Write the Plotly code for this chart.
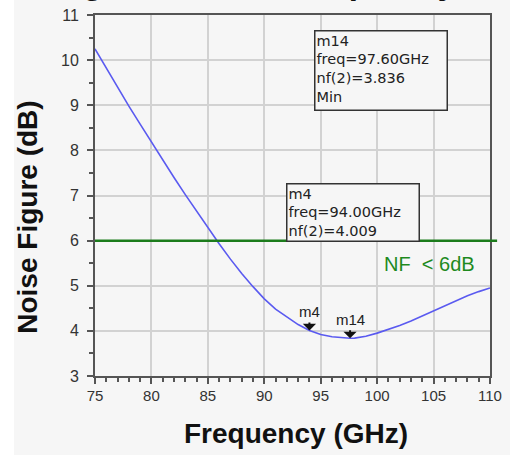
import plotly.graph_objects as go

freq_ghz = [75, 76, 77, 78, 79, 80, 81, 82, 83, 84, 85, 86, 87, 88, 89, 90, 91, 92, 93,
            94, 95, 96, 97, 97.6, 98, 99, 100, 101, 102, 103, 104, 105, 106, 107, 108, 109, 110]
nf_db = [10.25, 9.82, 9.40, 8.98, 8.58, 8.18, 7.79, 7.40, 7.02, 6.65, 6.28, 5.93, 5.59, 5.27,
         4.98, 4.71, 4.48, 4.30, 4.14, 4.009, 3.92, 3.87, 3.84, 3.836, 3.84, 3.88, 3.95, 4.03,
         4.12, 4.22, 4.33, 4.44, 4.55, 4.67, 4.78, 4.87, 4.95]

marker_names = ["m4", "m14"]
marker_freq = [94.0, 97.6]
marker_nf = [4.009, 3.836]
marker_box_text = ["m4<br>freq=94.00GHz<br>nf(2)=4.009",
                   "m14<br>freq=97.60GHz<br>nf(2)=3.836<br>Min"]
nf_limit = 6
x_ticks = [75, 80, 85, 90, 95, 100, 105, 110]
y_ticks = [3, 4, 5, 6, 7, 8, 9, 10, 11]

BG = "#f6f6f6"
AX = "#555555"
FONT = "Arial, Liberation Sans, sans-serif"
BOXFONT = "DejaVu Sans, Arial, sans-serif"

fig = go.Figure()
fig.add_trace(go.Scatter(x=freq_ghz, y=nf_db, mode="lines",
                         line=dict(color="#5a5af0", width=1.6), showlegend=False,
                         hoverinfo="skip"))

annotations = []
# marker triangles + labels
for name, fx, fy in zip(marker_names, marker_freq, marker_nf):
    annotations.append(dict(x=fx, y=fy, xref="x", yref="y", text=name, showarrow=True,
                            ax=0, ay=-8, arrowhead=1, arrowsize=1.1, arrowwidth=2,
                            arrowcolor="#111111", yanchor="bottom", standoff=0,
                            font=dict(family=FONT, size=15, color="#222222")))

# marker readout boxes
box_pos = [(0.4835, 0.5346, 58), (0.554, 0.958, 80)]
for txt, (bx, by, bh) in zip(marker_box_text, box_pos):
    annotations.append(dict(x=bx, y=by, xref="paper", yref="paper", text=txt, showarrow=False,
                            xanchor="left", yanchor="top", align="left", valign="top",
                            width=129, height=bh - 4, borderpad=1, borderwidth=1.5,
                            bordercolor="#333333", bgcolor=BG,
                            font=dict(family=BOXFONT, size=14.5, color="#222222")))

annotations.append(dict(x=104.6, y=5.48, xref="x", yref="y", text="NF  < 6dB", showarrow=False,
                        font=dict(family=FONT, size=20, color="#1e8a1e")))

# axis titles
annotations.append(dict(x=0.509, y=-0.207, xref="paper", yref="paper", text="<b>Frequency (GHz)</b>",
                        showarrow=False, font=dict(family=FONT, size=28, color="#111111")))
annotations.append(dict(x=-0.215, y=0.44, xref="paper", yref="paper", text="<b>Noise Figure (dB)</b>",
                        showarrow=False, textangle=-90,
                        font=dict(family=FONT, size=28, color="#111111")))
# cropped title (only descenders visible at the top edge)
annotations.append(dict(x=0.273, y=1.0395, xref="paper", yref="paper",
                        text="<b>Noise Figure versus Frequency</b>", showarrow=False,
                        xanchor="center", yanchor="bottom", borderpad=0, borderwidth=0,
                        font=dict(family=FONT, size=34, color="#111111")))

shapes = [
    dict(type="rect", xref="paper", yref="paper", x0=-0.25, x1=-0.205, y0=-0.25, y1=1.06,
         fillcolor="white", line=dict(width=0), layer="below"),
    dict(type="line", xref="paper", yref="y", x0=0, x1=1.018, y0=nf_limit, y1=nf_limit,
         line=dict(color="#1c7c1c", width=2.5)),
]

fig.update_layout(
    width=510, height=455,
    margin=dict(l=95, r=20, t=15, b=79),
    paper_bgcolor=BG, plot_bgcolor=BG,
    annotations=annotations, shapes=shapes,
    xaxis=dict(range=[75, 110], tickvals=x_ticks, ticks="outside", ticklen=6, tickwidth=2,
               tickcolor=AX, showline=True, linecolor=AX, linewidth=2, mirror=True,
               showgrid=True, gridcolor="#d2d2d2", gridwidth=1.5, zeroline=False,
               automargin=False, ticklabelstandoff=-1,
               tickfont=dict(family=FONT, size=15, color="#333333"),
               minor=dict(dtick=1, ticks="outside", ticklen=4, tickwidth=1.5, tickcolor=AX,
                          showgrid=False)),
    yaxis=dict(range=[3, 11], tickvals=y_ticks, ticks="outside", ticklen=6, tickwidth=2,
               tickcolor=AX, showline=True, linecolor=AX, linewidth=2, mirror=True,
               showgrid=True, gridcolor="#d2d2d2", gridwidth=1.5, zeroline=False,
               automargin=False, ticklabelstandoff=5,
               tickfont=dict(family=FONT, size=16, color="#333333"),
               minor=dict(dtick=0.5, ticks="outside", ticklen=4, tickwidth=1.5, tickcolor=AX,
                          showgrid=False)),
)

fig.write_html("out.html", config={"displayModeBar": False},
               post_script="document.body.style.margin='0';document.body.style.overflow='hidden';")
